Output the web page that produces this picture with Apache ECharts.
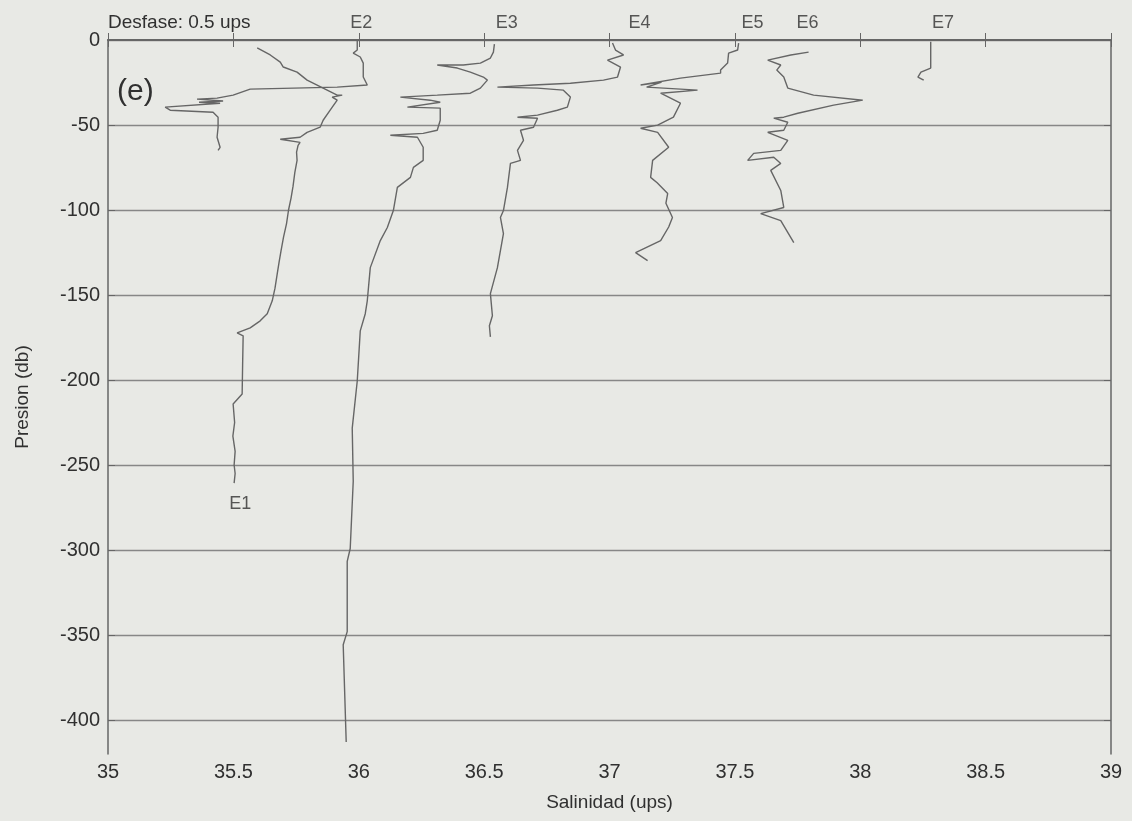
<!DOCTYPE html>
<html>
<head>
<meta charset="utf-8">
<title>Salinidad vs presion</title>
<script src="https://cdn.jsdelivr.net/npm/echarts@6/dist/echarts.min.js"></script>
<style>
  html, body { margin: 0; padding: 0; background: #e8e9e5; }
  #main { width: 1132px; height: 821px; }
</style>
</head>
<body>
<div id="main"></div>
<script>
// perfiles [salinidad (ups), presion (db)], cada estacion desplazada 0.5 ups
const e1 = [[35.595,-4.7],[35.647,-8.8],[35.687,-13.0],[35.699,-15.9],[35.754,-18.9],[35.794,-23.6],[35.834,-26.5],[35.858,-28.3],[35.914,-32.4],[35.934,-32.4],[35.894,-33.6],[35.914,-35.4],[35.886,-41.3],[35.858,-47.2],[35.846,-51.3],[35.794,-54.3],[35.766,-57.2],[35.687,-58.4],[35.766,-60.2],[35.758,-62.0],[35.752,-66],[35.754,-70.8],[35.745,-78],[35.738,-86],[35.730,-93],[35.720,-100],[35.712,-108],[35.700,-116],[35.690,-124],[35.682,-131],[35.675,-137.4],[35.666,-146],[35.655,-153.4],[35.635,-161.0],[35.607,-165.2],[35.567,-169.3],[35.515,-172.3],[35.539,-174.0],[35.537,-190],[35.535,-208.2],[35.499,-214.1],[35.505,-225],[35.498,-233],[35.507,-242],[35.503,-250],[35.507,-255],[35.503,-260.7]];
const e2 = [[35.994,0],[35.994,-5.9],[35.978,-7.7],[36.006,-10.0],[36.018,-13.6],[36.018,-21.8],[36.034,-26.5],[35.914,-27.7],[35.567,-28.9],[35.499,-32.4],[35.435,-34.2],[35.355,-34.8],[35.459,-35.9],[35.363,-36.6],[35.447,-37.2],[35.228,-39.5],[35.248,-41.3],[35.419,-42.5],[35.439,-45.4],[35.439,-51.3],[35.435,-57.2],[35.447,-63.1],[35.439,-64.9]];
const e3 = [[36.541,-2.4],[36.537,-7.1],[36.525,-10.6],[36.485,-13.6],[36.417,-14.7],[36.313,-14.7],[36.393,-16.5],[36.445,-18.9],[36.497,-21.8],[36.513,-23.6],[36.485,-28.3],[36.445,-31.3],[36.313,-32.4],[36.166,-33.6],[36.285,-35.4],[36.325,-36.6],[36.194,-39.5],[36.325,-40.1],[36.325,-47.2],[36.313,-53.1],[36.257,-54.9],[36.126,-56.0],[36.234,-57.2],[36.257,-63.1],[36.257,-70.8],[36.218,-74.9],[36.206,-80.8],[36.154,-86.7],[36.138,-100.3],[36.114,-110.3],[36.086,-118.0],[36.046,-133.9],[36.034,-153.4],[36.026,-161.0],[36.006,-171.1],[35.994,-200.6],[35.974,-228.3],[35.978,-259.6],[35.966,-299.1],[35.954,-306.7],[35.954,-348.0],[35.938,-355.7],[35.950,-412.9]];
const e4 = [[37.012,-1.8],[37.024,-5.9],[37.056,-8.8],[36.992,-11.8],[37.044,-15.9],[37.032,-21.8],[36.976,-23.6],[36.844,-25.4],[36.697,-26.5],[36.553,-27.7],[36.713,-28.3],[36.816,-29.5],[36.844,-33.6],[36.832,-39.5],[36.792,-41.3],[36.713,-44.2],[36.633,-45.4],[36.713,-46.0],[36.697,-51.3],[36.645,-53.1],[36.657,-59.0],[36.633,-64.9],[36.645,-70.8],[36.605,-72.6],[36.593,-86.7],[36.577,-100.3],[36.565,-104.4],[36.577,-113.9],[36.553,-133.9],[36.525,-149.2],[36.533,-162.2],[36.521,-168.1],[36.525,-174.6]];
const e5 = [[37.515,-1.8],[37.511,-5.9],[37.475,-7.7],[37.471,-13.6],[37.443,-17.7],[37.443,-19.5],[37.283,-22.4],[37.124,-26.5],[37.208,-24.8],[37.148,-27.7],[37.351,-29.5],[37.204,-31.3],[37.283,-37.2],[37.255,-45.4],[37.192,-50.1],[37.124,-51.9],[37.192,-54.3],[37.236,-63.1],[37.172,-70.8],[37.164,-80.8],[37.190,-84],[37.232,-90.3],[37.225,-96],[37.251,-104.4],[37.236,-110],[37.204,-118.0],[37.104,-125.1],[37.152,-129.8]];
const e6 = [[37.794,-7.1],[37.723,-8.8],[37.631,-11.8],[37.683,-14.7],[37.667,-17.7],[37.695,-21.8],[37.711,-28.3],[37.814,-32.4],[38.010,-35.4],[37.894,-38.3],[37.751,-43.1],[37.695,-45.4],[37.655,-46.0],[37.711,-48.4],[37.695,-53.1],[37.631,-54.3],[37.711,-59.0],[37.683,-64.9],[37.575,-66.7],[37.551,-70.8],[37.655,-69.0],[37.683,-72.6],[37.643,-76.7],[37.683,-88.5],[37.695,-98.5],[37.603,-102.1],[37.683,-106.2],[37.735,-119.2]];
const e7 = [[38.281,-1],[38.281,-16.5],[38.242,-18.9],[38.230,-21.8],[38.253,-23.6]];

const profiles = [e1, e2, e3, e4, e5, e6, e7];
const stationNames = ['E1', 'E2', 'E3', 'E4', 'E5', 'E6', 'E7'];
// donde va cada etiqueta de estacion (E1 abajo, el resto encima del eje)
const labelSal = [35.527, 36.01, 36.59, 37.12, 37.57, 37.79, 38.33];
const labelPres = [-273, 10, 10, 10, 10, 10, 10];
const presTicks = [0, -50, -100, -150, -200, -250, -300, -350, -400];

const chart = echarts.init(document.getElementById('main'));
const font = 'Liberation Sans, Arial, Helvetica, sans-serif';
const lineCol = '#666666';
const textCol = '#303030';

const series = profiles.map((d, i) => ({
  name: stationNames[i],
  type: 'line',
  data: d,
  showSymbol: false,
  lineStyle: { color: lineCol, width: 1.4 },
  z: 3
}));

series.push({
  type: 'scatter',
  clip: false,
  silent: true,
  symbolSize: 0,
  data: stationNames.map((n, i) => ({ name: n, value: [labelSal[i], labelPres[i]] })),
  label: {
    show: true,
    position: 'inside',
    formatter: p => p.name,
    fontSize: 18,
    fontFamily: font,
    color: textCol
  }
});

const option = {
  backgroundColor: '#e8e9e5',
  animation: false,
  grid: { left: 108, right: 21, top: 40, bottom: 67 },
  graphic: [
    {
      type: 'text', x: 108, y: 23,
      style: { text: 'Desfase: 0.5 ups', fontSize: 19, fontFamily: font, fill: textCol, verticalAlign: 'middle' }
    },
    {
      type: 'text', x: 117, y: 92,
      style: { text: '(e)', fontSize: 30, fontFamily: font, fill: textCol, verticalAlign: 'middle' }
    }
  ],
  xAxis: [
    {
      type: 'value', min: 35, max: 39, interval: 0.5, position: 'bottom',
      name: 'Salinidad (ups)', nameLocation: 'middle', nameGap: 39,
      nameTextStyle: { fontSize: 19, fontFamily: font, color: textCol },
      axisLine: { show: true, lineStyle: { color: lineCol, width: 1.5 } },
      axisTick: { inside: true, length: 7, lineStyle: { color: lineCol } },
      axisLabel: { fontSize: 20, fontFamily: font, color: textCol, margin: 8 },
      splitLine: { show: false }
    },
    {
      type: 'value', min: 35, max: 39, interval: 0.5, position: 'top',
      axisLine: { show: true, lineStyle: { color: lineCol, width: 2 } },
      axisTick: { inside: true, length: 7, lineStyle: { color: lineCol } },
      axisLabel: { show: false },
      splitLine: { show: false }
    }
  ],
  yAxis: [
    {
      type: 'value', min: -420, max: 0, position: 'left',
      name: 'Presion (db)', nameLocation: 'middle', nameGap: 76,
      nameTextStyle: { fontSize: 19, fontFamily: font, color: textCol },
      axisLine: { show: true, lineStyle: { color: lineCol, width: 1.5 } },
      axisTick: { inside: true, length: 7, customValues: presTicks, lineStyle: { color: lineCol } },
      axisLabel: { customValues: presTicks, fontSize: 20, fontFamily: font, color: textCol, margin: 8 },
      splitLine: { show: true, lineStyle: { color: '#878787', width: 1.3 } }
    },
    {
      type: 'value', min: -420, max: 0, position: 'right',
      axisLine: { show: true, lineStyle: { color: lineCol, width: 1.5 } },
      axisTick: { inside: true, length: 7, customValues: presTicks, lineStyle: { color: lineCol } },
      axisLabel: { show: false },
      splitLine: { show: false }
    }
  ],
  series: series
};

chart.setOption(option);
</script>
</body>
</html>
